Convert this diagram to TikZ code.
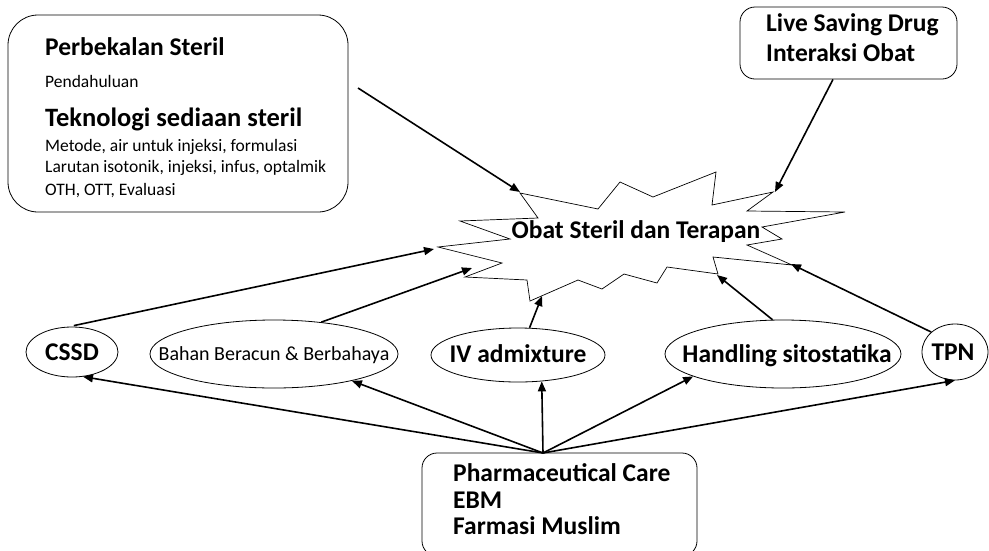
\documentclass[tikz,border=0pt]{standalone}
\usepackage{fontspec}
\setmainfont{Carlito}
\usetikzlibrary{arrows.meta,shapes.geometric}
\tikzset{
  rbox/.style={draw, line width=0.8pt, rounded corners=#1, inner sep=0pt},
  ell/.style={draw, ellipse, line width=0.8pt, inner sep=0pt},
  arr/.style={line width=1.6pt, -{Triangle[length=10pt,width=8pt]}},
  bigt/.style={font=\fontsize{25.5}{27}\selectfont\bfseries},
  midt/.style={font=\fontsize{20}{22}\selectfont},
  smallt/.style={font=\fontsize{17.5}{19}\selectfont},
  txt/.style={inner sep=0pt, anchor=west},
  ctxt/.style={inner sep=0pt}
}
\begin{document}
\begin{tikzpicture}[x=1pt,y=-1pt]
\useasboundingbox (0,0) rectangle (989,550);
\clip (0,0) rectangle (989,550);

% big top-left box
\node[rbox=30pt, minimum width=340pt, minimum height=197pt] (pb) at (178,113.5) {};
\node[txt, bigt] (t1) at (45,47) {Perbekalan Steril};
\node[txt, smallt] (t2) at (45,81) {Pendahuluan};
\node[txt, bigt, font=\fontsize{26.5}{28}\selectfont\bfseries] (t3) at (45,119) {Teknologi sediaan steril};
\node[txt, smallt] (t4) at (45,147) {Metode, air untuk injeksi, formulasi};
\node[txt, smallt] (t5) at (45,168) {Larutan isotonik, injeksi, infus, optalmik};
\node[txt, smallt] (t6) at (45,191) {OTH, OTT, Evaluasi};
\coordinate (pbout) at (358,88);

% top-right box
\node[rbox=15pt, minimum width=217pt, minimum height=72pt] (lsd) at (848.5,43) {};
\node[txt, bigt] (l1) at (766,25) {Live Saving Drug};
\node[txt, bigt] (l2) at (766,53) {Interaksi Obat};

% starburst
\draw[line width=0.7pt] (520,193) -- (598,209) -- (620,182) -- (653,197) -- (716,172)
  -- (712,205) -- (773,192) -- (747,211) -- (845,212) -- (762,227) -- (782,239)
  -- (747,245) -- (792,265) -- (713,257) -- (718,274) -- (667,267) -- (657,283)
  -- (624,274) -- (602,289) -- (578,280) -- (530,301) -- (527,280) -- (465,277)
  -- (502,263) -- (438,247) -- (510,239) -- (460,221) -- (538,218) -- cycle;
\node[ctxt, bigt] (star) at (636,232) {Obat Steril dan Terapan};
\coordinate (sA) at (520,192);
\coordinate (sB) at (775,192);
\coordinate (sC) at (434,249);
\coordinate (sD) at (472,268);
\coordinate (sE) at (542,296);
\coordinate (sF) at (717,275);
\coordinate (sG) at (791,264);

% ellipses
\node[ell, minimum width=92pt, minimum height=50pt] (cssd) at (72,352) {};
\node[ctxt, bigt] (cssdt) at (72,352) {CSSD};
\node[ell, minimum width=248pt, minimum height=68pt] (bahan) at (274,354) {};
\node[ctxt, midt] (bahant) at (274,355) {Bahan Beracun \& Berbahaya};
\node[ell, minimum width=174pt, minimum height=54pt] (iv) at (518,355) {};
\node[ctxt, bigt] (ivt) at (518,354) {IV admixture};
\node[ell, minimum width=236pt, minimum height=68pt] (hand) at (783,354) {};
\node[ctxt, bigt] (handt) at (787,356) {Handling sitostatika};
\node[ell, minimum width=66pt, minimum height=56pt] (tpn) at (955,352) {};
\node[ctxt, bigt] (tpnt) at (953,352) {TPN};

% bottom box
\node[rbox=15pt, minimum width=275pt, minimum height=103pt] (pc) at (559.5,504.5) {};
\node[txt, bigt] (p1) at (453,473) {Pharmaceutical Care};
\node[txt, bigt] (p2) at (453,500) {EBM};
\node[txt, bigt] (p3) at (453,526) {Farmasi Muslim};
\coordinate (hub) at (543,453);

% arrows to the starburst
\draw[arr] (pbout) -- (sA);
\draw[arr] ([xshift=-15.5pt]lsd.south) -- (sB);
\draw[arr, shorten <=5pt] (cssd.97) -- (sC);
\draw[arr] (bahan.34) -- (sD);
\draw[arr] (iv.67) -- (sE);
\draw[arr] (hand.107) -- (sF);
\draw[arr] (tpn.140) -- (sG);

% arrows from the bottom box
\draw[arr] (hub) -- (cssd.-66);
\draw[arr] (hub) -- (bahan.-19);
\draw[arr] (hub) -- (iv.-48);
\draw[arr] (hub) -- (hand.-166);
\draw[arr] (hub) -- (tpn.-90);
\end{tikzpicture}
\end{document}
